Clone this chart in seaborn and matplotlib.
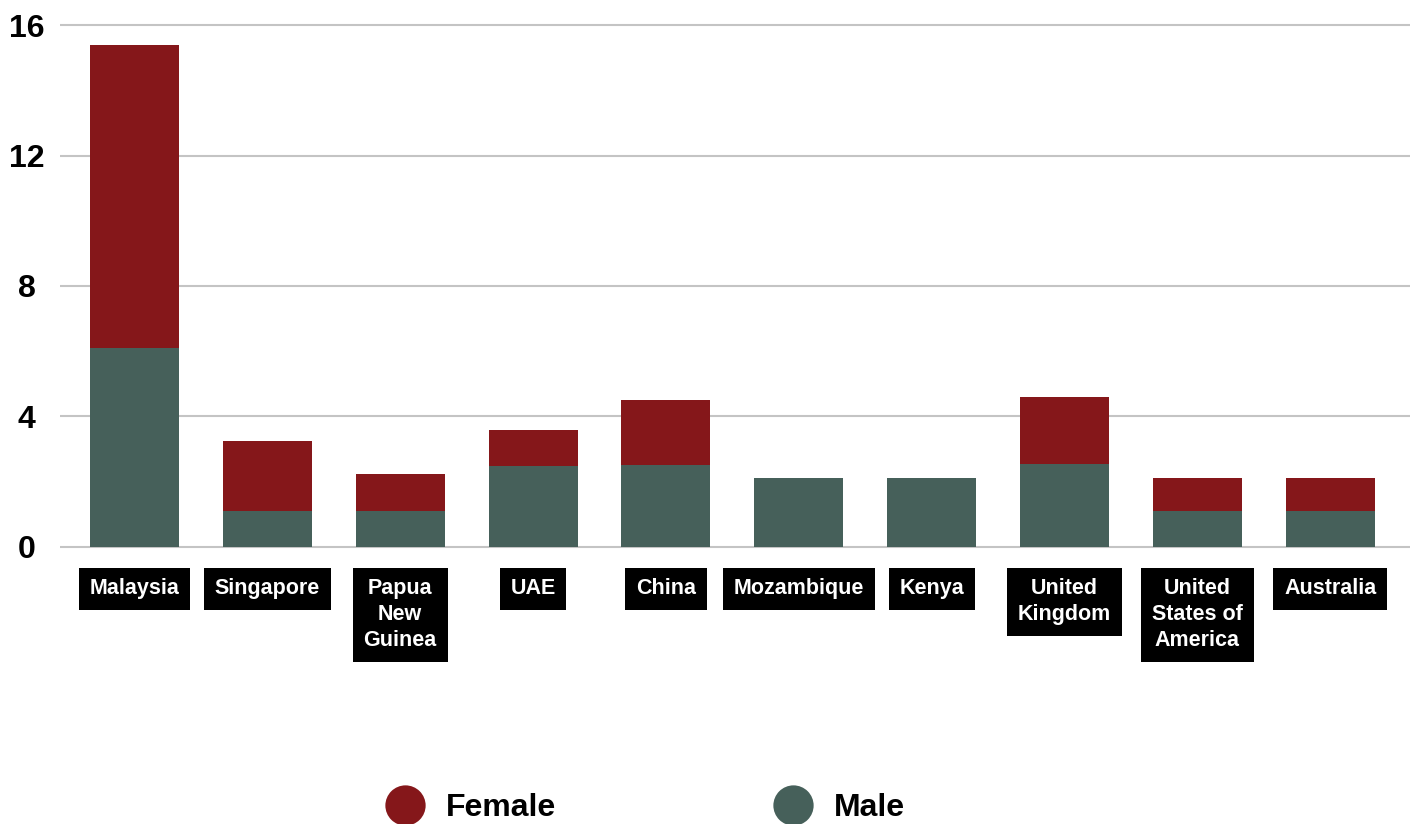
import pandas as pd
import matplotlib.pyplot as plt
import seaborn as sns
from matplotlib.lines import Line2D

# values
countries = ['Malaysia', 'Singapore', 'Papua\nNew\nGuinea', 'UAE', 'China',
             'Mozambique', 'Kenya', 'United\nKingdom', 'United\nStates of\nAmerica',
             'Australia']
male = [6.1, 1.1, 1.1, 2.48, 2.5, 2.1, 2.1, 2.55, 1.1, 1.1]
female = [9.3, 2.15, 1.14, 1.1, 2.0, 0.0, 0.0, 2.05, 1.0, 1.0]
y_ticks = [0, 4, 8, 12, 16]

RED = '#85171a'
GREEN = '#46605a'

df = pd.DataFrame({'country': countries, 'male': male, 'female': female})
df['total'] = df['male'] + df['female']

sns.set_theme(style='white')
plt.rcParams['font.family'] = ['Liberation Sans', 'DejaVu Sans']

fig = plt.figure(figsize=(14.1, 8.24), dpi=100)
ax = fig.add_axes([60 / 1410, (824 - 563) / 824, 1350 / 1410, 563 / 824])

# stacked look: total in red, male drawn over it
sns.barplot(data=df, x='country', y='total', color=RED, width=0.67,
            saturation=1, errorbar=None, linewidth=0, ax=ax, zorder=3)
sns.barplot(data=df, x='country', y='male', color=GREEN, width=0.67,
            saturation=1, errorbar=None, linewidth=0, ax=ax, zorder=3)

ax.set_xlim(-0.56, 9.6)
ax.set_ylim(-0.5, 16.77)
ax.set_yticks(y_ticks)
ax.set_yticklabels([str(t) for t in y_ticks], fontsize=23, fontweight='bold',
                   ha='center', color='black')
ax.tick_params(axis='y', length=0, pad=24)
ax.tick_params(axis='x', length=0, pad=11)
ax.yaxis.grid(True, color='#c4c4c4', linewidth=1.5, zorder=0)
ax.set_axisbelow(True)
for s in ax.spines.values():
    s.set_visible(False)
ax.set_xlabel('')
ax.set_ylabel('')

ax.set_xticks(range(len(countries)))
ax.set_xticklabels(countries, fontsize=15.5, fontweight='bold', color='white',
                   multialignment='center', linespacing=1.3)
for lbl in ax.get_xticklabels():
    lbl.set_bbox(dict(boxstyle='square,pad=0.5', facecolor='black',
                      edgecolor='none'))

handles = [Line2D([], [], marker='o', linestyle='none', markersize=29,
                  markerfacecolor=RED, markeredgecolor='none'),
           Line2D([], [], marker='o', linestyle='none', markersize=29,
                  markerfacecolor=GREEN, markeredgecolor='none')]
leg = fig.legend(handles, ['Female', 'Male'], loc='center',
                 bbox_to_anchor=(645 / 1410, 16 / 824), ncol=2, frameon=False,
                 prop={'size': 23, 'weight': 'bold'}, handlelength=1.25,
                 handletextpad=0.65, columnspacing=6.8, borderpad=0)
for t in leg.get_texts():
    t.set_color('black')

fig.savefig('out.png', dpi=100)
